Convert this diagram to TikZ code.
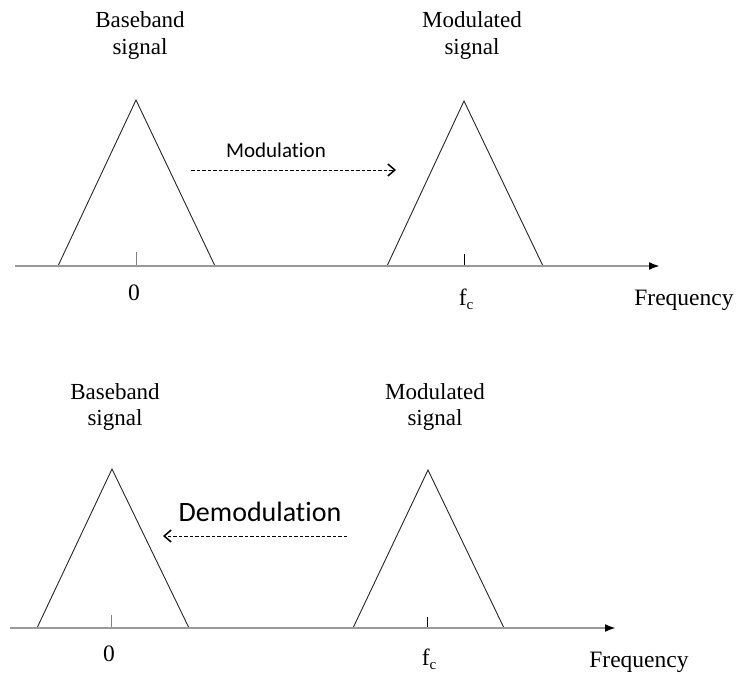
\documentclass[tikz,border=0pt]{standalone}
\usepackage{fontspec}
\setmainfont{Liberation Serif}
\newfontfamily\carlito[Ligatures=NoCommon]{Carlito}
\usetikzlibrary{arrows.meta}

\newcommand{\fcar}{f\raisebox{-0.38ex}{\fontsize{15}{15}\selectfont c}}

\begin{document}
\begin{tikzpicture}[x=1pt, y=-1pt,
axis/.style={draw=gray!80, line width=2.2pt, -{Latex[color=black, length=11pt, width=8pt]}},
spec/.style={draw=black!85, line width=0.9pt, line join=miter},
tck/.style={line width=1pt},
sig/.style={align=center, font=\fontsize{23}{27}\selectfont, inner sep=0pt},
ax/.style={anchor=base, font=\fontsize{23.5}{27}\selectfont, inner sep=0pt},
mv/.style={dash pattern=on 3.5pt off 2pt, line width=0.9pt,
           -{Straight Barb[length=7pt, width=12pt, line width=1.5pt]}},
op/.style={anchor=base, inner sep=0pt},
]
\useasboundingbox (0,0) rectangle (738,672);

% upper spectrum
\coordinate (a0) at (15,266);
\coordinate (a1) at (660,266);
\coordinate (bl1) at (58,266);
\coordinate (bp1) at (136,100);
\coordinate (br1) at (215,266);
\coordinate (ml1) at (387,266);
\coordinate (mp1) at (464,101);
\coordinate (mr1) at (543,266);
\coordinate (bt1) at (136,252);
\coordinate (bb1) at (136,266);
\coordinate (mt1) at (464,254);
\coordinate (mb1) at (464,266);
\draw[spec] (bl1) -- (bp1) -- (br1);
\draw[spec] (ml1) -- (mp1) -- (mr1);
\draw[tck, gray] (bt1) -- (bb1);
\draw[tck] (mt1) -- (mb1);
\draw[axis] (a0) -- (a1);

\node[sig] (base1) at (140,36) {Baseband\\signal};
\node[sig] (modl1) at (472,36) {Modulated\\signal};
\node[ax] (zero1) at (134,300) {0};
\node[ax] (fc1) at (466,305) {\fcar};
\node[ax] (freq1) at (684,305) {Frequency};

\node[op, font=\carlito\fontsize{21}{24}\selectfont] (mod) at (276,157) {Modulation};
\coordinate (m0) at (191,170);
\coordinate (m1) at (396,170);
\draw[mv] (m0) -- (m1);

% lower spectrum
\coordinate (c0) at (10,628);
\coordinate (c1) at (616,628);
\coordinate (bl2) at (37,628);
\coordinate (bp2) at (112,469);
\coordinate (br2) at (189,628);
\coordinate (ml2) at (353,628);
\coordinate (mp2) at (428,470);
\coordinate (mr2) at (504,628);
\coordinate (bt2) at (111,615);
\coordinate (bb2) at (111,628);
\coordinate (mt2) at (427,617);
\coordinate (mb2) at (427,628);
\draw[spec] (bl2) -- (bp2) -- (br2);
\draw[spec] (ml2) -- (mp2) -- (mr2);
\draw[tck, gray] (bt2) -- (bb2);
\draw[tck] (mt2) -- (mb2);
\draw[axis] (c0) -- (c1);

\node[sig, font=\fontsize{23}{26}\selectfont] (base2) at (115,407) {Baseband\\signal};
\node[sig, font=\fontsize{23}{26}\selectfont] (modl2) at (435,407) {Modulated\\signal};
\node[ax] (zero2) at (109,661) {0};
\node[ax] (fc2) at (429,665) {\fcar};
\node[ax] (freq2) at (639,667) {Frequency};

\node[op, font=\carlito\fontsize{28}{32}\selectfont] (demod) at (260,521) {Demodulation};
\coordinate (d0) at (347,536);
\coordinate (d1) at (163,536);
\draw[mv] (d0) -- (d1);
\end{tikzpicture}
\end{document}
